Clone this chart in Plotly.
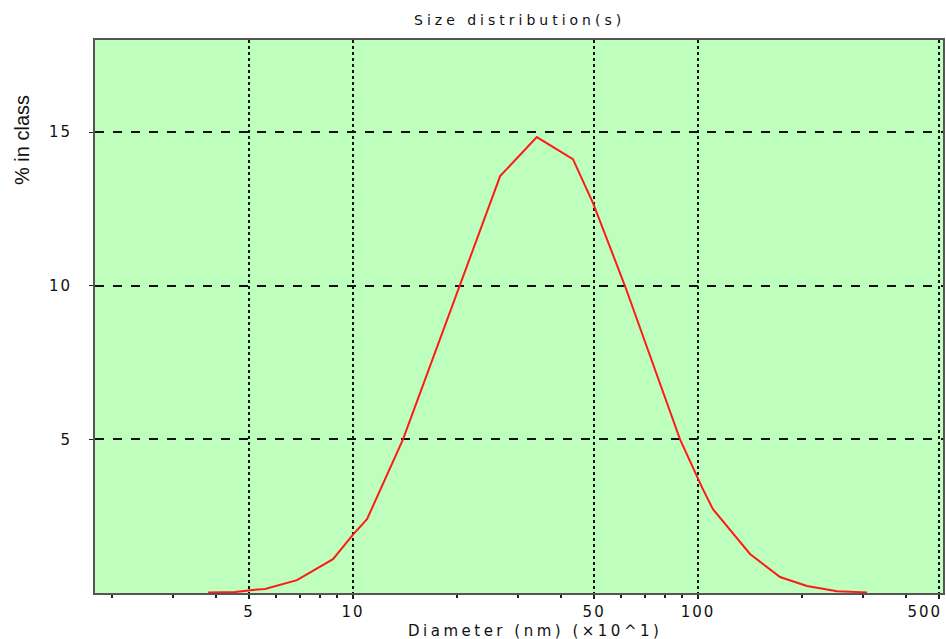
import plotly.graph_objects as go

# Data (diameter in nm x10^1, % in class)
diameter = [3.80, 4.55, 5.13, 5.56, 6.88, 8.75, 10.0, 10.98, 13.96, 16.72, 20.4, 26.7,
            34.1, 43.4, 49.6, 61.4, 88.7, 102.8, 110.5, 141.5, 172.9, 207, 253, 309]
percent = [0.02, 0.03, 0.10, 0.13, 0.42, 1.10, 1.90, 2.40, 5.00, 7.40, 10.00, 13.57,
           14.84, 14.12, 12.70, 10.00, 5.00, 3.43, 2.73, 1.27, 0.52, 0.23, 0.06, 0.02]

x_tick_vals = [5, 10, 50, 100, 500]
x_tick_labels = ["5", "10", "50", "100", "500"]
x_minor_vals = [2, 3, 4, 6, 7, 8, 9, 20, 30, 40, 60, 70, 80, 90, 200, 300, 400]
y_tick_vals = [5, 10, 15]
y_tick_labels = ["5", "10", "15"]

FONT = "DejaVu Sans"

# body margin is removed below, so figure coordinates = screen pixels
W, H = 946, 639
L, R, T, B = 95, 3, 40, 46
pw, ph = W - L - R, H - T - B
decade = 345.0
x_left = 1 - (353 - L) / decade
x_right = x_left + pw / decade


def sp(s, px):
    return f'<span style="letter-spacing:{px}px">{s}</span>'


x_text = [sp(t, 2) for t in x_tick_labels]
# last label sits pulled left so it stays inside the picture, as in the reference
x_text[-1] = sp(x_tick_labels[-1], 2) + "\u00a0" * 6

fig = go.Figure()
fig.add_trace(go.Scatter(
    x=diameter, y=percent, mode="lines",
    line=dict(color="#ff1a1a", width=2),
    showlegend=False, hoverinfo="x+y",
))

fig.update_layout(
    width=W, height=H,
    margin=dict(l=L, r=R, t=T, b=B, autoexpand=False),
    paper_bgcolor="white",
    plot_bgcolor="rgb(190,255,190)",
    font=dict(family=FONT, size=14, color="#111"),
    xaxis=dict(
        type="log",
        automargin=False,
        range=[x_left, x_right],
        tickmode="array", tickvals=x_tick_vals, ticktext=x_text,
        ticklabeloverflow="allow",
        ticks="outside", ticklen=4, tickwidth=2, tickcolor="#222",
        showgrid=True, gridcolor="#111", gridwidth=2, griddash="dot",
        showline=True, linecolor="#555", linewidth=2, mirror=True,
        zeroline=False,
        tickfont=dict(family=FONT, size=15),
        minor=dict(tickmode="array", tickvals=x_minor_vals, ticks="outside",
                   ticklen=3, tickwidth=2, tickcolor="#222", showgrid=False),
    ),
    yaxis=dict(
        automargin=False,
        range=[0, 18],
        tickmode="array", tickvals=y_tick_vals,
        ticktext=[sp(t, 2) for t in y_tick_labels],
        ticks="outside", ticklen=4, tickwidth=1, tickcolor="#222",
        ticklabelstandoff=14,
        showgrid=True, gridcolor="#111", gridwidth=1.5, griddash="dash",
        showline=True, linecolor="#555", linewidth=2, mirror=True,
        zeroline=False,
        tickfont=dict(family=FONT, size=15),
    ),
)


def px_x(x):
    return (x - L) / pw


def px_y(y):
    return (H - B - y) / ph


fig.add_annotation(text=sp("Size distribution(s)", 4), x=px_x(519), y=px_y(20),
                   xref="paper", yref="paper", xanchor="center", yanchor="middle",
                   showarrow=False, font=dict(family=FONT, size=14))
fig.add_annotation(text=sp("Diameter (nm) (×10^1)", 3.5), x=px_x(535), y=px_y(631),
                   xref="paper", yref="paper", xanchor="center", yanchor="middle",
                   showarrow=False, font=dict(family=FONT, size=15))
fig.add_annotation(text="% in class", x=px_x(22), y=px_y(140), textangle=-90,
                   xref="paper", yref="paper", xanchor="center", yanchor="middle",
                   showarrow=False,
                   font=dict(family="Liberation Sans Narrow, Liberation Sans", size=20))

fig.write_html(
    "out.html",
    config={"displayModeBar": False},
    post_script="document.body.style.margin='0px';document.body.style.overflow='hidden';",
)
